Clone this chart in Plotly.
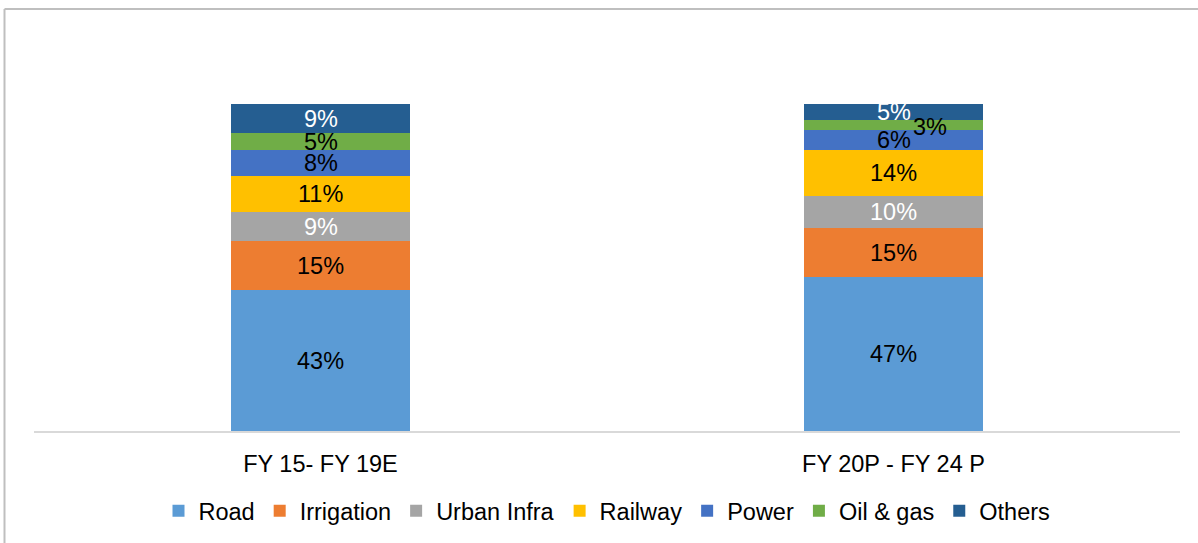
import plotly.graph_objects as go

#%% data
periods = ["FY 15- FY 19E", "FY 20P - FY 24 P"]
segments = ["Road", "Irrigation", "Urban Infra", "Railway", "Power", "Oil & gas", "Others"]
road = [43, 47]
irrigation = [15, 15]
urban_infra = [9, 10]
railway = [11, 14]
power = [8, 6]
oil_gas = [5, 3]
others = [9, 5]

values = [road, irrigation, urban_infra, railway, power, oil_gas, others]
colors = ["#5B9BD5", "#ED7D31", "#A5A5A5", "#FFC000", "#4472C4", "#70AD47", "#255E91"]
label_colors = ["black", "black", "white", "black", "black", "black", "white"]

# le 3% est trop petit, Excel l'a decale a droite
label_shift = {(1, 5): (36, -2)}

FONT = "Liberation Sans, Arial, sans-serif"

#%% figure
fig = go.Figure()
for name, vals, col in zip(segments, values, colors):
    fig.add_trace(go.Bar(x=periods, y=vals, name=name, marker_color=col,
                         marker_line_width=0, hoverinfo="name+y"))

# etiquettes au milieu de chaque segment
annotations = []
for j, per in enumerate(periods):
    cum = 0
    for i, vals in enumerate(values):
        v = vals[j]
        dx, dy = label_shift.get((j, i), (0, 0))
        annotations.append(dict(x=per, y=cum + v / 2, xref="x", yref="y",
                                text=f"{v}%", showarrow=False, xshift=dx, yshift=dy,
                                font=dict(family=FONT, size=23.5, color=label_colors[i])))
        cum += v

fig.update_layout(
    barmode="stack", bargap=0.6875,
    width=1198, height=543,
    margin=dict(l=34, r=18, t=104, b=112),
    paper_bgcolor="white", plot_bgcolor="white",
    font=dict(family=FONT, size=23.5, color="black"),
    annotations=annotations,
    showlegend=True,
    legend=dict(orientation="h", x=0.5, xanchor="center", y=0.059, yanchor="middle",
                yref="container", traceorder="normal", font=dict(size=23.5),
                itemwidth=30),
    shapes=[
        dict(type="line", xref="paper", yref="paper", x0=(4.5 - 34) / 1146, x1=1.1,
             y0=(431 - 9) / 327, y1=(431 - 9) / 327, line=dict(color="#BFBFBF", width=2)),
        dict(type="line", xref="paper", yref="paper", x0=(4.5 - 34) / 1146, x1=(4.5 - 34) / 1146,
             y0=(431 - 9) / 327, y1=-0.5, line=dict(color="#BFBFBF", width=2)),
    ],
)
fig.update_xaxes(showline=True, linecolor="#D9D9D9", linewidth=2, showgrid=False,
                 ticks="", ticklabelstandoff=11, tickfont=dict(size=23.5))
fig.update_yaxes(range=[0, 100], visible=False, showgrid=False)

# pas de marge du body, sinon tout est decale de 8px
fig.write_html("out.html", config={"displayModeBar": False},
               post_script="document.body.style.margin='0';")
